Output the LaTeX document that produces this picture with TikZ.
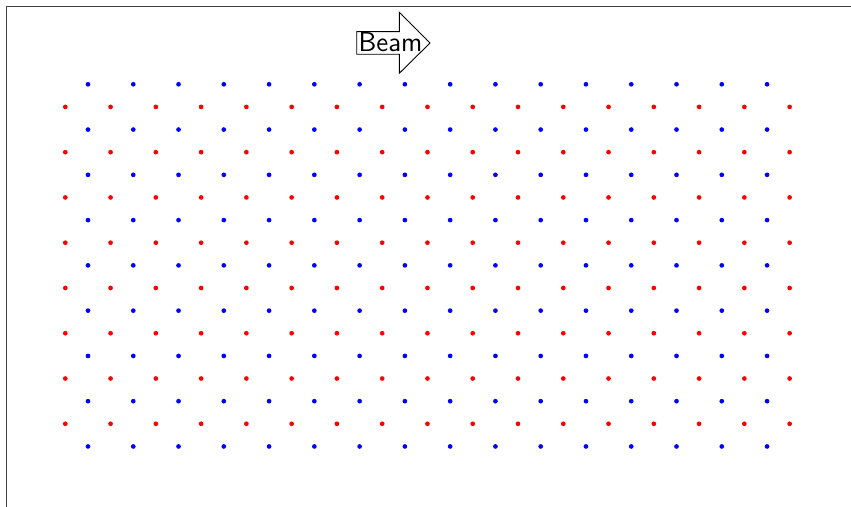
\documentclass[tikz,border=0pt]{standalone}
\begin{document}
\begin{tikzpicture}[x=0.5pt,y=-0.5pt,
  frameline/.style={draw=black!75,line width=0.65pt},
  beamarrow/.style={draw=black,line width=0.45pt,fill=white,line join=miter},
  beamtext/.style={inner sep=0pt,font=\sffamily\fontsize{13.7}{16}\selectfont},
  bluedot/.style={fill=blue},
  reddot/.style={fill=red}]
\useasboundingbox (0,0) rectangle (851,507);
\draw[frameline] (851,6.5) -- (6.5,6.5) -- (6.5,507);
% beam arrow
\draw[beamarrow] (356.7,31.7) -- (399.3,31.7) -- (399.3,12.3) -- (430,43) -- (399.3,73.3) -- (399.3,54.3) -- (356.7,54.3) -- cycle;
\node[beamtext,anchor=base] (beam) at (390.5,51.7) {Beam};
% lattice
\foreach \i in {0,...,15}{
  \foreach \j in {0,...,8}{
    \fill[bluedot] ({88+\i*45.27},{84.3+\j*45.27}) circle[radius=2.35];
  }
}
\foreach \i in {0,...,16}{
  \foreach \j in {0,...,7}{
    \fill[reddot] ({65.3+\i*45.27},{106.9+\j*45.27}) circle[radius=2.35];
  }
}
\end{tikzpicture}
\end{document}
